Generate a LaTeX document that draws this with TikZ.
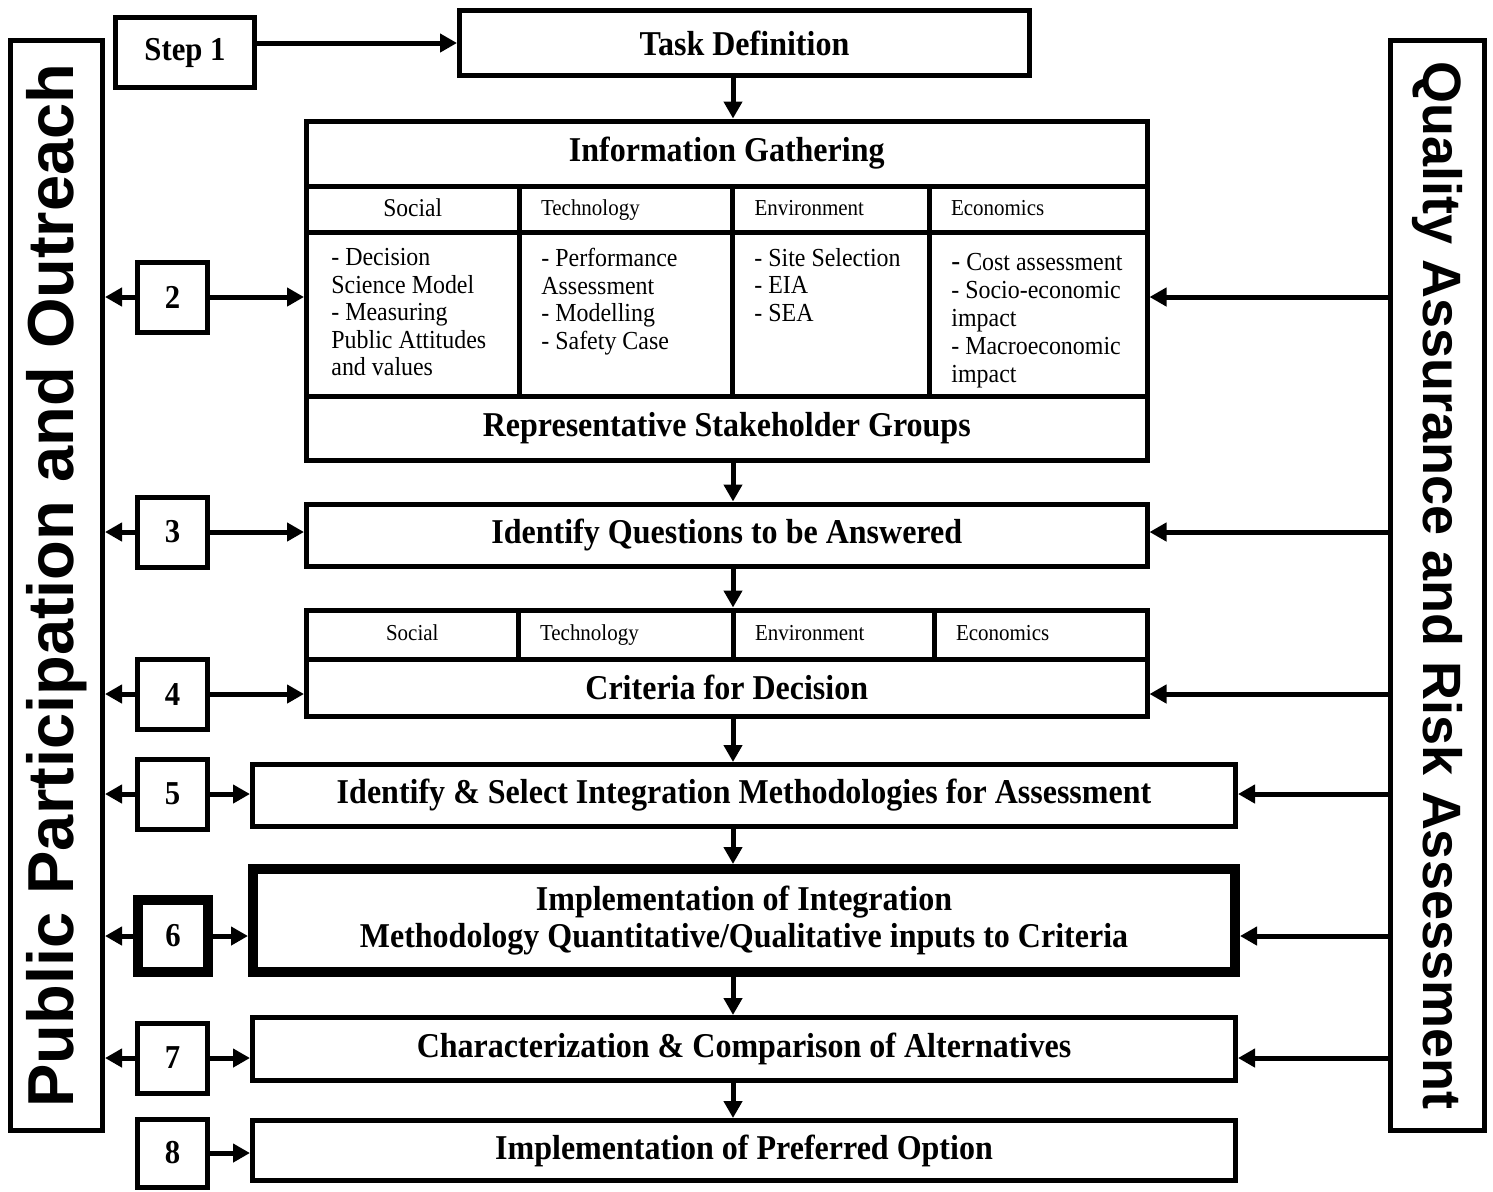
\documentclass[tikz,border=0pt]{standalone}
\usepackage{fontspec}
\setmainfont{Liberation Serif}[FakeStretch=0.92]
\newfontfamily\sidefont{Liberation Sans}
\usetikzlibrary{arrows.meta,positioning}
\tikzset{
  box/.style      = {draw, line width=2.5pt, inner sep=0pt, align=center,
                     font=\fontsize{17.4}{18.5}\selectfont\bfseries},
  bigbox/.style   = {box, line width=5pt},
  stepbox/.style  = {box, minimum width=35pt, minimum height=35pt,
                     font=\fontsize{16.7}{18}\selectfont\bfseries},
  sidebar/.style  = {draw, line width=2.5pt, inner sep=0pt,
                     minimum height=545pt},
  cell/.style     = {draw, line width=2.5pt, inner sep=0pt},
  headcell/.style = {cell, inner xsep=11pt, align=left,
                     text height=8.5pt, text depth=2.5pt,
                     font=\fontsize{11.4}{13}\selectfont},
  bodytext/.style = {anchor=north west, inner sep=0pt, align=left,
                     font=\fontsize{13}{13.75}\selectfont},
  arrow/.style    = {line width=2.5pt, -{Triangle[length=8.5pt,width=9pt]}}
}
\begin{document}
\begin{tikzpicture}[x=0.5pt, y=-0.5pt]
  \useasboundingbox (0,0) rectangle (1493,1191);
  \coordinate (spine) at (733,0);

  % side bars
  \node [sidebar, minimum width=46pt] (ppo) at (56.5,585.5)
    {\sidefont\fontsize{32.5}{36}\selectfont\bfseries
     \rotatebox{90}{Public Participation and Outreach}};
  \node [sidebar, minimum width=47pt] (qara) at (1437.5,585.5)
    {\sidefont\fontsize{27}{30}\selectfont\bfseries
     \rotatebox{-90}{Quality Assurance and Risk Assessment}};

  % step 1
  \node [stepbox, minimum width=69.5pt] (step1) at (185,52.5) {Step 1};
  \node [box, minimum width=285pt, minimum height=32.5pt] (task) at (744.5,43) {Task Definition};

  % information gathering block
  \node [box, minimum width=420.25pt, minimum height=32.5pt] (info) at (726.75,153.5) {Information Gathering};
  \node [headcell, align=center, text width=84.25pt, minimum height=23pt,
         text height=9.5pt, font=\fontsize{12.8}{14}\selectfont] (h1) at (412.75,209) {Social};
  \node [headcell, text width=84.75pt, minimum height=23pt] (h2) at (625.75,209) {Technology};
  \node [headcell, text width=76.25pt, minimum height=23pt] (h3) at (830.75,209) {Environment};
  \node [headcell, text width=87pt, minimum height=23pt] (h4) at (1038,209) {Economics};
  \node [cell, minimum width=106.25pt, minimum height=82pt] (b1) at (412.75,314) {};
  \node [cell, minimum width=106.75pt, minimum height=82pt] (b2) at (625.75,314) {};
  \node [cell, minimum width=98.25pt, minimum height=82pt] (b3) at (830.75,314) {};
  \node [cell, minimum width=109pt, minimum height=82pt] (b4) at (1038,314) {};
  \node [bodytext] (t1) at (331,248) {- Decision\\Science Model\\- Measuring\\Public Attitudes\\and values};
  \node [bodytext] (t2) at (541,248) {- Performance\\Assessment\\- Modelling\\- Safety Case};
  \node [bodytext] (t3) at (754,248) {- Site Selection\\- EIA\\- SEA};
  \node [bodytext, font=\fontsize{13}{14}\selectfont] (t4) at (951,253)
    {{\fontsize{14.5}{14}\selectfont -} Cost assessment\\- Socio-economic\\impact\\- Macroeconomic\\impact};
  \node [box, minimum width=420.25pt, minimum height=32pt] (rsg) at (726.75,428) {Representative Stakeholder Groups};

  \node [box, minimum width=420.25pt, minimum height=31pt] (iq) at (726.75,535) {Identify Questions to be Answered};

  % criteria block
  \node [headcell, align=center, text width=83.75pt, minimum height=24.5pt] (c1) at (412.25,634.5) {Social};
  \node [headcell, text width=85.5pt, minimum height=24.5pt] (c2) at (625.5,634.5) {Technology};
  \node [headcell, text width=78.5pt, minimum height=24.5pt] (c3) at (833.5,634.5) {Environment};
  \node [headcell, text width=84.5pt, minimum height=24.5pt] (c4) at (1040.5,634.5) {Economics};
  \node [box, minimum width=420.25pt, minimum height=28.5pt] (crit) at (726.75,687.5) {Criteria for Decision};

  \node [box, minimum width=491.5pt, minimum height=31pt] (isel) at (744,795.5)
    {Identify \& Select Integration Methodologies for Assessment};
  \node [bigbox, minimum width=491pt, minimum height=51.5pt] (impl) at (744,920.5)
    {Implementation of Integration\\Methodology Quantitative/Qualitative inputs to Criteria};
  \node [box, minimum width=491.5pt, minimum height=31.5pt] (char) at (744,1049)
    {Characterization \& Comparison of Alternatives};
  \node [box, minimum width=491.5pt, minimum height=30pt] (pref) at (744,1150.5)
    {Implementation of Preferred Option};

  % step numbers
  \node [stepbox] (s2) at (172.5,297) {2};
  \node [stepbox] (s3) at (172.5,532) {3};
  \node [stepbox] (s4) at (172.5,694) {4};
  \node [stepbox] (s5) at (172.5,794) {5};
  \node [stepbox, line width=5pt, minimum height=36pt] (s6) at (173,936) {6};
  \node [stepbox] (s7) at (172.5,1058) {7};
  \node [stepbox, minimum height=34pt] (s8) at (172.5,1153) {8};

  % main flow
  \draw [arrow] (task.west -| step1.east) -- (task.west);
  \draw [arrow] (task.south -| spine) -- (info.north -| spine);
  \draw [arrow] (rsg.south -| spine) -- (iq.north -| spine);
  \draw [arrow] (iq.south -| spine) -- (c3.north -| spine);
  \draw [arrow] (crit.south -| spine) -- (isel.north -| spine);
  \draw [arrow] (isel.south -| spine) -- (impl.north -| spine);
  \draw [arrow] (impl.south -| spine) -- (char.north -| spine);
  \draw [arrow] (char.south -| spine) -- (pref.north -| spine);

  % public participation links
  \draw [arrow] (s2.west) -- (s2.west -| ppo.east);
  \draw [arrow] (s3.west) -- (s3.west -| ppo.east);
  \draw [arrow] (s4.west) -- (s4.west -| ppo.east);
  \draw [arrow] (s5.west) -- (s5.west -| ppo.east);
  \draw [arrow] (s6.west) -- (s6.west -| ppo.east);
  \draw [arrow] (s7.west) -- (s7.west -| ppo.east);

  % steps into the flow
  \draw [arrow] (s2.east) -- (s2.east -| b1.west);
  \draw [arrow] (s3.east) -- (s3.east -| iq.west);
  \draw [arrow] (s4.east) -- (s4.east -| crit.west);
  \draw [arrow] (s5.east) -- (s5.east -| isel.west);
  \draw [arrow] (s6.east) -- (s6.east -| impl.west);
  \draw [arrow] (s7.east) -- (s7.east -| char.west);
  \draw [arrow] (s8.east) -- (s8.east -| pref.west);

  % quality assurance links
  \draw [arrow] (qara.west |- s2) -- (s2 -| b4.east);
  \draw [arrow] (qara.west |- s3) -- (s3 -| iq.east);
  \draw [arrow] (qara.west |- s4) -- (s4 -| crit.east);
  \draw [arrow] (qara.west |- s5) -- (s5 -| isel.east);
  \draw [arrow] (qara.west |- s6) -- (s6 -| impl.east);
  \draw [arrow] (qara.west |- s7) -- (s7 -| char.east);
\end{tikzpicture}
\end{document}
